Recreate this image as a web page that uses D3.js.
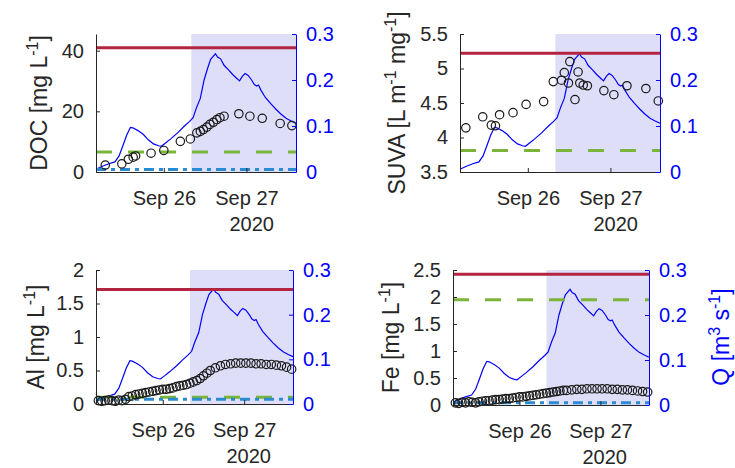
<!DOCTYPE html>
<html>
<head>
<meta charset="utf-8">
<script src="https://cdn.jsdelivr.net/npm/d3@7"></script>
<style>
  body { margin: 0; background: #fff; }
  svg { font-family: "Liberation Sans", Arial, sans-serif; }
</style>
</head>
<body>
<script>
// ** Discharge Q, hours after Sep 25 2020 00:00 [m3 s-1]
var qHours = [4.3, 6, 8, 9.8, 11, 12, 13.2, 14.3, 15, 16.5, 18, 19.5, 21, 22.5, 23.3, 24.5, 26, 28, 30, 31.5,
  32.5, 33.5, 34.6, 35.7, 36.7, 37.6, 38.4, 39, 39.6, 40.5, 41.5, 42.8, 44, 45, 46, 46.8, 47.6, 48.5, 49.5, 50.3,
  51, 51.5, 52.2, 53.5, 55, 56.5, 58, 59.5, 61, 62.4];
var qValues = [0.006, 0.012, 0.018, 0.022, 0.035, 0.055, 0.08, 0.097, 0.096, 0.09, 0.082, 0.07, 0.061, 0.057, 0.056, 0.063, 0.072, 0.085, 0.1, 0.11,
  0.118, 0.14, 0.16, 0.2, 0.225, 0.245, 0.252, 0.257, 0.25, 0.246, 0.232, 0.222, 0.212, 0.205, 0.198, 0.208, 0.214, 0.21, 0.2, 0.19,
  0.187, 0.189, 0.178, 0.162, 0.149, 0.137, 0.126, 0.117, 0.111, 0.106];

// ** DOC grab samples
var docHours = [7, 11.8, 13.7, 15.1, 15.8, 20.3, 24, 28.8, 31.7, 33.6, 34.6, 35.5, 36.5, 37.4, 38.4, 39.4, 40.3, 41.5, 45.8, 49, 52.6, 57.8, 61.2];
var docValues = [2.3, 2.7, 4.2, 4.9, 5.3, 6.2, 7.1, 10.1, 10.9, 12.9, 13.4, 14, 14.8, 15.7, 16.4, 17.3, 17.9, 18.4, 19.2, 18.4, 17.7, 16, 15.3];

// ** SUVA samples
var suvaHours = [6, 10.9, 13.4, 14.6, 15.8, 19.7, 23.5, 28.6, 31.4, 33.8, 34.6, 35.8, 36.2, 37.7, 38.6, 39.1, 40.1, 41.3, 46.1, 49, 52.8, 58.3, 61.9];
var suvaValues = [4.14, 4.3, 4.18, 4.17, 4.33, 4.36, 4.48, 4.52, 4.81, 4.83, 4.94, 4.79, 5.1, 4.55, 4.95, 4.79, 4.76, 4.75, 4.68, 4.62, 4.75, 4.71, 4.53];

// ** Al and Fe samples (sensor)
var sampleHours = [5, 6, 7, 8, 9, 10, 11, 12, 13, 14, 15, 16, 17, 18, 19, 20, 21, 22, 23, 24, 25, 26, 27, 28, 29, 30, 31, 32, 33, 34, 35, 36, 37, 38,
  39.5, 41, 42.5, 44, 45.5, 47, 48.5, 50, 51.5, 53, 54.5, 56, 57.5, 59, 60.5, 62];
var alValues = [0.05, 0.04, 0.05, 0.06, 0.05, 0.04, 0.06, 0.05, 0.07,
  0.11, 0.12, 0.14, 0.15, 0.16, 0.17, 0.18, 0.19, 0.2, 0.21, 0.22, 0.22, 0.23, 0.24, 0.26, 0.27, 0.28, 0.29, 0.31, 0.33, 0.35, 0.38, 0.42, 0.46, 0.5,
  0.54, 0.57, 0.59, 0.6, 0.61, 0.61, 0.61, 0.61, 0.6, 0.6, 0.59, 0.59, 0.58, 0.57, 0.55, 0.52];
var feValues = [0.04, 0.03, 0.05, 0.04, 0.06, 0.05, 0.04, 0.06, 0.07,
  0.08, 0.08, 0.09, 0.1, 0.1, 0.11, 0.12, 0.12, 0.13, 0.14, 0.15, 0.15, 0.16, 0.17, 0.18, 0.19, 0.2, 0.21, 0.22, 0.23, 0.24, 0.25, 0.26, 0.27, 0.27,
  0.28, 0.29, 0.29, 0.3, 0.3, 0.3, 0.3, 0.3, 0.29, 0.29, 0.28, 0.28, 0.27, 0.26, 0.25, 0.24];

// ** Guideline levels per panel (DOC, SUVA, Al, Fe)
var redLimits = [41, 5.22, 1.71, 2.42];
var greenLimits = [6.6, 3.81, 0.1, 1.95];
var blueLimits = [0.8, null, 0.07, 0.04];

// ** Axis ticks
var leftDomains = [[0, 45.5], [3.5, 5.5], [0, 2], [0, 2.5]];
var leftTicks = [[0, 20, 40], [3.5, 4, 4.5, 5, 5.5], [0, 0.5, 1, 1.5, 2], [0, 0.5, 1, 1.5, 2, 2.5]];
var qTicks = [0, 0.1, 0.2, 0.3];
var hourRange = [4.3, 62.4];
var eventStartHour = 32;
var dayTicks = [24, 48];
var yearLabel = '2020';

var toDate = function(h){
  return new Date(2020, 8, 25, 0, 0, 0, Math.round(h * 3600000));
};

var panels = [
  {left: 96,  top: 34,  w: 200, h: 138, hours: docHours,    values: docValues,
    label: [['DOC [mg L', 0], ['-1', 1], [']', 0]], lx: 47},
  {left: 460, top: 34,  w: 200, h: 138, hours: suvaHours,   values: suvaValues,
    label: [['SUVA [L m', 0], ['-1', 1], [' mg', 0], ['-1', 1], [']', 0]], lx: 405},
  {left: 96,  top: 270, w: 197, h: 134, hours: sampleHours, values: alValues,
    label: [['Al [mg L', 0], ['-1', 1], [']', 0]], lx: 44},
  {left: 453, top: 270, w: 196, h: 135, hours: sampleHours, values: feValues,
    label: [['Fe [mg L', 0], ['-1', 1], [']', 0]], lx: 399}
];

var svg = d3.select('body').append('svg')
    .attr('width', 735)
    .attr('height', 468);

// ** rotated label with superscripts
var addLabel = function(x, y, parts, color){
  var t = svg.append('text')
      .attr('transform', 'translate(' + x + ',' + y + ') rotate(-90)')
      .attr('text-anchor', 'middle')
      .attr('font-size', 23)
      .attr('fill', color);
  var shift = 0;
  parts.forEach(function(p){
    var s = t.append('tspan').text(p[0]);
    if(p[1]){
      s.attr('font-size', 16).attr('dy', -9 - shift);
      shift = -9;
    } else {
      s.attr('dy', -shift);
      shift = 0;
    }
  });
};

panels.forEach(function(p, i){
  var g = svg.append('g').attr('transform', 'translate(' + p.left + ',' + p.top + ')');

  var x = d3.scaleTime().domain(hourRange.map(toDate)).range([0, p.w]);
  var y = d3.scaleLinear().domain(leftDomains[i]).range([p.h, 0]);
  var yq = d3.scaleLinear().domain([0, 0.3]).range([p.h, 0]);

  // ** event shading
  g.append('rect')
      .attr('x', x(toDate(eventStartHour)))
      .attr('y', 0)
      .attr('width', p.w - x(toDate(eventStartHour)))
      .attr('height', p.h)
      .attr('fill', '#dedef8');

  // ** discharge
  var line = d3.line()
      .x(function(d, k){ return x(toDate(qHours[k])); })
      .y(function(d){ return yq(d); });
  g.append('path')
      .datum(qValues)
      .attr('d', line)
      .attr('fill', 'none')
      .attr('stroke', '#0000ff')
      .attr('stroke-width', 1.2);

  // ** guideline levels
  var hline = function(v, color, dash){
    if(v === null) return;
    g.append('line')
        .attr('x1', 0).attr('x2', p.w)
        .attr('y1', y(v)).attr('y2', y(v))
        .attr('stroke', color)
        .attr('stroke-width', 3)
        .attr('stroke-dasharray', dash);
  };
  hline(redLimits[i], '#b2243f', null);
  hline(greenLimits[i], '#7ab53a', '16,16');
  hline(blueLimits[i], '#2a8bd2', '10,5,4,5');

  // ** samples
  g.selectAll('circle')
      .data(p.values)
      .enter().append('circle')
      .attr('cx', function(d, k){ return x(toDate(p.hours[k])); })
      .attr('cy', function(d){ return y(d); })
      .attr('r', 4.2)
      .attr('fill', 'none')
      .attr('stroke', '#1a1a1a')
      .attr('stroke-width', 1.2);

  // ** axes
  var ax = g.append('g')
      .attr('transform', 'translate(0,' + p.h + ')')
      .call(d3.axisBottom(x).tickValues(dayTicks.map(toDate))
        .tickFormat(d3.timeFormat('%b %d')).tickSizeInner(-4).tickSizeOuter(0).tickPadding(19));
  var ay = g.append('g')
      .call(d3.axisLeft(y).tickValues(leftTicks[i]).tickFormat(function(d){ return d; })
        .tickSizeInner(-4).tickSizeOuter(0).tickPadding(12));
  var aq = g.append('g')
      .attr('transform', 'translate(' + p.w + ',0)')
      .call(d3.axisRight(yq).tickValues(qTicks).tickFormat(function(d){ return d; })
        .tickSizeInner(-4).tickSizeOuter(0).tickPadding(10));

  [ax, ay].forEach(function(a){
    a.selectAll('path, line').attr('stroke', '#262626');
    a.selectAll('text').attr('fill', '#262626').attr('font-size', 20);
    a.attr('font-family', null);
  });
  aq.selectAll('path, line').attr('stroke', '#0000ff');
  aq.selectAll('text').attr('fill', '#0000ff').attr('font-size', 20);
  aq.attr('font-family', null);

  g.append('text')
      .attr('x', p.w - 22)
      .attr('y', p.h + 59)
      .attr('text-anchor', 'end')
      .attr('font-size', 20)
      .attr('fill', '#262626')
      .text(yearLabel);

  addLabel(p.lx, p.top + p.h / 2, p.label, '#262626');
});

addLabel(729, 337, [['Q [m', 0], ['3', 1], [' s', 0], ['-1', 1], [']', 0]], '#0000ff');
</script>
</body>
</html>
